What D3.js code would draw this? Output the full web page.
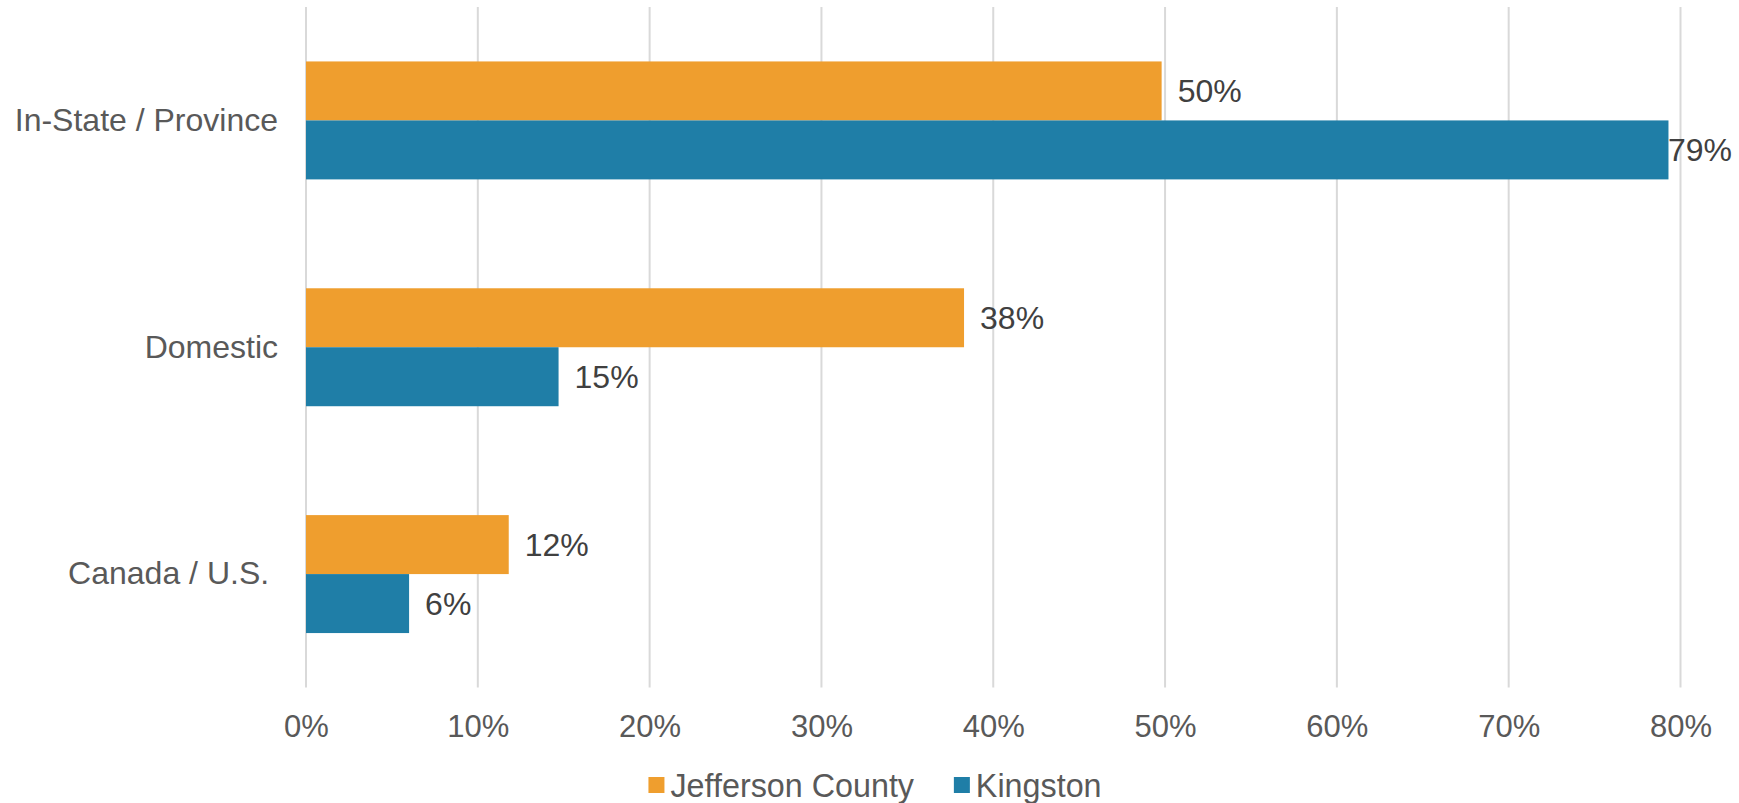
<!DOCTYPE html>
<html><head><meta charset="utf-8">
<script src="https://cdn.jsdelivr.net/npm/d3@7"></script>
<style>html,body{margin:0;padding:0;background:#fff;}svg{display:block;font-family:"Liberation Sans",Arial,sans-serif;}</style>
</head><body>
<script>
const categories = ["In-State / Province", "Domestic", "Canada / U.S. "];
const seriesNames = ["Jefferson County", "Kingston"];
const jefferson = [0.498, 0.383, 0.118];
const kingston = [0.793, 0.147, 0.060];
const xTicks = [0, 0.1, 0.2, 0.3, 0.4, 0.5, 0.6, 0.7, 0.8];
const colors = ["#EF9E2E", "#1F7EA7"];

const W = 1739, H = 803;
const plot = {left: 306, right: 1680.5, top: 7, bottom: 687.5};
const svg = d3.select("body").append("svg").attr("width", W).attr("height", H);

const x = d3.scaleLinear().domain([0, 0.8]).range([plot.left, plot.right]);
const y = d3.scaleBand().domain(categories).range([plot.top, plot.bottom]).paddingInner(0.48).paddingOuter(0.24);
const ySub = d3.scaleBand().domain(seriesNames).range([0, y.bandwidth()]);

// gridlines
svg.append("g").selectAll("line").data(xTicks).join("line")
  .attr("x1", d => x(d)).attr("x2", d => x(d))
  .attr("y1", plot.top).attr("y2", plot.bottom)
  .attr("stroke", "#d9d9d9").attr("stroke-width", 2);

// x axis labels
const xAxis = d3.axisBottom(x).tickValues(xTicks).tickFormat(d3.format(".0%")).tickSize(0).tickPadding(0);
const gx = svg.append("g").attr("transform", `translate(0,${plot.bottom})`).call(xAxis);
gx.select(".domain").remove();
gx.selectAll("text").attr("font-size", 31).attr("fill", "#595959")
  .attr("font-family", '"Liberation Sans",Arial,sans-serif').attr("dy", null).attr("y", 49);

// y axis labels
const yAxis = d3.axisLeft(y).tickSize(0).tickPadding(28);
const gy = svg.append("g").attr("transform", `translate(${plot.left},0)`).call(yAxis);
gy.select(".domain").remove();
gy.selectAll("text").attr("font-size", 32).attr("fill", "#595959")
  .style("white-space", "pre")
  .attr("font-family", '"Liberation Sans",Arial,sans-serif');

const data = [];
categories.forEach((c, i) => {
  data.push({cat: c, s: seriesNames[0], v: jefferson[i], col: colors[0]});
  data.push({cat: c, s: seriesNames[1], v: kingston[i], col: colors[1]});
});

svg.append("g").selectAll("rect").data(data).join("rect")
  .attr("x", x(0)).attr("y", d => y(d.cat) + ySub(d.s))
  .attr("width", d => x(d.v) - x(0)).attr("height", ySub.bandwidth())
  .attr("fill", d => d.col);

// data labels
const lbl = svg.append("g").selectAll("text").data(data).join("text")
  .attr("y", d => y(d.cat) + ySub(d.s) + ySub.bandwidth() / 2)
  .attr("dy", "0.36em")
  .attr("font-size", 32).attr("fill", "#404040")
  .text(d => d3.format(".0%")(d.v));
lbl.each(function(d) {
  const w = this.getComputedTextLength();
  const xx = Math.min(x(d.v) + 16, W - 7 - w);
  d3.select(this).attr("x", xx);
});

// legend
const leg = svg.append("g");
const items = leg.selectAll("g").data(seriesNames).join("g");
items.append("rect").attr("width", 16).attr("height", 16).attr("y", -8).attr("fill", (d, i) => colors[i]);
items.append("text").attr("x", 22).attr("dy", "0.36em").attr("font-size", 32.3).attr("fill", "#595959").text(d => d);
let cx = 0;
const widths = [];
items.each(function() { widths.push(this.getBBox().width); });
items.attr("transform", (d, i) => { const t = `translate(${cx},0)`; cx += widths[i] + 39; return t; });
const total = cx - 39;
leg.attr("transform", `translate(${875 - total / 2},785)`);
</script>
</body></html>
